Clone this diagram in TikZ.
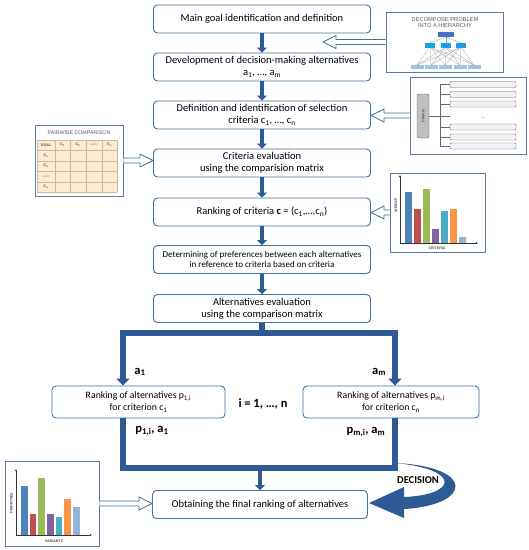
\documentclass[tikz,border=0pt]{standalone}
\usepackage{fontspec}
\setmainfont{Carlito}
\newfontfamily\lsans{Liberation Sans}
\usetikzlibrary{arrows.meta,calc}
\definecolor{boxblue}{HTML}{41719C}
\definecolor{arrblue}{HTML}{2E5A96}
\definecolor{frameblue}{HTML}{5B7BA5}
\definecolor{cBlue}{HTML}{4F81BD}
\definecolor{cRed}{HTML}{C0504D}
\definecolor{cGreen}{HTML}{9BBB59}
\definecolor{cPurple}{HTML}{8064A2}
\definecolor{cAqua}{HTML}{4BACC6}
\definecolor{cOrange}{HTML}{F79646}
\definecolor{cLight}{HTML}{95B3D7}
\definecolor{hTop}{HTML}{4472C4}
\definecolor{hMid}{HTML}{1BA1E2}
\definecolor{hLow}{HTML}{9DC3E6}
\definecolor{beige}{HTML}{FCEBD2}
\definecolor{gridc}{HTML}{C9B99E}
\tikzset{
 mainbox/.style={draw=boxblue, line width=0.9pt, rounded corners=4pt, fill=white,
   minimum width=217pt, minimum height=28pt, align=center, inner sep=0.5pt,
   font=\fontsize{10.5}{12}\selectfont},
 smallbox/.style={mainbox, minimum width=173pt, minimum height=32pt,
   font=\fontsize{9.8}{12}\selectfont},
 imgframe/.style={draw=frameblue, line width=0.9pt, fill=white, inner sep=0pt},
 vflow/.style={draw=arrblue, line width=4pt, -{Triangle[width=10pt,length=5pt]}},
 thk/.style={draw=arrblue, line width=6pt, line join=miter},
 harrow/.style={draw=boxblue, line width=0.8pt, fill=white, line join=miter},
 lbl/.style={font=\fontsize{12.5}{14}\bfseries\selectfont, text=black},
 tinytxt/.style={font=\lsans\fontsize{3.6}{4}\bfseries\selectfont, text=black!70, inner sep=0pt},
 captxt/.style={font=\lsans\fontsize{5.7}{6.5}\selectfont, text=black!65, align=center, inner sep=0pt},
}
\newcommand\hollowarr[2]{%
 \draw[harrow] let \p1=(#1), \p2=(#2), \n1={sign(\x2-\x1)} in
  ({\x1},{\y1+2.5pt}) -- ({\x2-\n1*13pt},{\y1+2.5pt}) -- ({\x2-\n1*13pt},{\y1+6.5pt})
  -- ({\x2},{\y1}) -- ({\x2-\n1*13pt},{\y1-6.5pt}) -- ({\x2-\n1*13pt},{\y1-2.5pt})
  -- ({\x1},{\y1-2.5pt});}
\begin{document}
\begin{tikzpicture}[x=1pt,y=-1pt]
\useasboundingbox (0,0) rectangle (529,550);
\fill[white] (0,0) rectangle (529,550);

% ---------- image: hierarchy ----------
\node[imgframe, minimum width=117pt, minimum height=60pt] (hier) at (444.5,42) {};
\node[captxt] (hiertitle) at (445,22.5) {DECOMPOSE PROBLEM\\INTO A HIERARCHY};
\foreach \mx in {430,446,461} {
  \draw[black!40, line width=0.3pt] (446,37) -- (\mx,43);
  \foreach \bx in {417,431,445,460,474} \draw[black!40, line width=0.25pt] (\mx,47) -- (\bx,65);
}
\fill[hTop] (438,32) rectangle (454,37);
\foreach \mx in {430,446,461} \fill[hMid] (\mx-5,43) rectangle (\mx+5,47.5);
\foreach \bx in {417,431,445,460,474} \fill[hLow] (\bx-6.5,65) rectangle (\bx+6.5,68.5);

% ---------- image: criteria tree ----------
\node[imgframe, minimum width=116pt, minimum height=77pt] (crit) at (468,115.5) {};
\draw[black!60, line width=0.4pt] (429,116) -- (450,116);
\draw[black!60, line width=0.4pt] (440,84.5) -- (440,146);
\foreach \yy in {84.5,94.5,104,127,137,146} {
  \draw[black!60, line width=0.4pt] (440,\yy) -- (450,\yy);
  \draw[black!60, fill=black!5, line width=0.4pt, rounded corners=1pt] (450,\yy-3) rectangle (516,\yy+3);
}
\node[tinytxt] (dots) at (483,118) {...};
\draw[black!60, fill=black!25, line width=0.4pt, rounded corners=2pt] (417,94) rectangle (429,138);
\node[tinytxt, rotate=90] (crittxt) at (423,116) {Criteria};

% ---------- image: pairwise comparison ----------
\node[imgframe, minimum width=88pt, minimum height=71pt] (pw) at (79,160.5) {};
\node[captxt, font=\lsans\fontsize{5.3}{6}\selectfont] (pwtitle) at (79,133) {PAIRWISE COMPARISON};
\fill[beige] (37,140) rectangle (117,192);
\foreach \xx in {37,55,70,86,102,117} \draw[gridc, line width=0.5pt] (\xx,140) -- (\xx,192);
\foreach \yy in {140,150,161,171,182,192} \draw[gridc, line width=0.5pt] (37,\yy) -- (117,\yy);
\node[tinytxt] (g0) at (46,145) {GOAL};
\node[tinytxt] (g1) at (62.5,145) {C\textsubscript{1}};
\node[tinytxt] (g2) at (78,145) {C\textsubscript{2}};
\node[tinytxt] (g3) at (94,145) {——};
\node[tinytxt] (g4) at (109.5,145) {C\textsubscript{n}};
\node[tinytxt] (r1) at (46,155.5) {C\textsubscript{1}};
\node[tinytxt] (r2) at (46,166) {C\textsubscript{2}};
\node[tinytxt] (r3) at (46,176.5) {——};
\node[tinytxt] (r4) at (46,187) {C\textsubscript{n}};

% ---------- image: weight chart ----------
\node[imgframe, minimum width=95pt, minimum height=79pt] (wch) at (437.5,212.5) {};
\fill[cBlue] (405,192) rectangle (412,243);
\fill[cRed] (414,209) rectangle (421,243);
\fill[cGreen] (423,189) rectangle (430,243);
\fill[cPurple] (432,229) rectangle (438.5,243);
\fill[cAqua] (441,211) rectangle (448,243);
\fill[cOrange] (450,209) rectangle (457,243);
\fill[cLight] (459,237) rectangle (466,243);
\draw[black!80, line width=0.5pt, -{Latex[length=2pt,width=2pt]}] (400,243) -- (400,175);
\draw[black!80, line width=0.5pt, -{Latex[length=2pt,width=2pt]}] (400,243) -- (478,243);
\node[tinytxt, rotate=90] (wlab) at (396,205) {WEIGHT};
\node[tinytxt] (clab) at (437,248) {CRITERIA};

% ---------- image: variants chart ----------
\node[imgframe, minimum width=94pt, minimum height=85pt] (vch) at (52,503.5) {};
\fill[cBlue] (21,486) rectangle (27.5,535);
\fill[cRed] (29.5,514) rectangle (36,535);
\fill[cGreen] (38,478) rectangle (45,535);
\fill[cPurple] (47,514) rectangle (53.5,535);
\fill[cAqua] (55.5,517) rectangle (62,535);
\fill[cOrange] (64,499) rectangle (71,535);
\fill[cLight] (73,507) rectangle (80,535);
\draw[black!80, line width=0.5pt, -{Latex[length=2pt,width=2pt]}] (16,535) -- (16,469);
\draw[black!80, line width=0.5pt, -{Latex[length=2pt,width=2pt]}] (16,535) -- (92,535);
\node[tinytxt, rotate=90] (plab) at (11.5,503) {PRIORITIES};
\node[tinytxt] (vlab) at (54,541) {VARIANTS};

% ---------- main boxes ----------
\node[mainbox] (b1) at (262,19) {Main goal identification and definition};
\node[mainbox] (b2) at (262,67) {Development of decision-making alternatives\\a\textsubscript{1}, …, a\textsubscript{m}};
\node[mainbox] (b3) at (262,115) {Definition and identification of selection\\criteria c\textsubscript{1}, …, c\textsubscript{n}};
\node[mainbox] (b4) at (262,163) {Criteria evaluation\\using the comparision matrix};
\node[mainbox] (b5) at (262,212) {Ranking of criteria \textbf{c} = (c\textsubscript{1},…,c\textsubscript{n})};
\node[mainbox, font=\fontsize{9}{10.5}\selectfont] (b6) at (262,259.5) {Determining of preferences between each alternatives\\in reference to criteria based on criteria};
\node[mainbox] (b7) at (262,308.5) {Alternatives evaluation\\using the comparison matrix};
\node[smallbox] (b8l) at (138.5,402) {Ranking of alternatives p\textsubscript{1,i}\\for criterion c\textsubscript{1}};
\node[smallbox, minimum width=176pt] (b8r) at (391,402) {Ranking of alternatives p\textsubscript{m,i}\\for criterion c\textsubscript{n}};
\node[mainbox, minimum width=215pt] (fin) at (260,504.5) {Obtaining the final ranking of alternatives};

% ---------- hollow arrows ----------
\coordinate (hgap) at (323,42);
\hollowarr{hier.west}{hgap}
\hollowarr{crit.west}{b3.east}
\hollowarr{pw.east}{b4.west |- pw.east}
\hollowarr{wch.west}{b5.east}
\hollowarr{vch.east}{fin.west |- vch.east}

% ---------- main flow ----------
\draw[vflow] (b1.south) -- (b2.north);
\draw[vflow] (b2.south) -- (b3.north);
\draw[vflow] (b3.south) -- (b4.north);
\draw[vflow] (b4.south) -- (b5.north);
\draw[vflow] (b5.south) -- (b6.north);
\draw[vflow] (b6.south) -- (b7.north);

\coordinate (jt) at (262,333);
\coordinate (jl) at (123,333);
\coordinate (jr) at (395,333);
\draw[thk] (b7.south) -- (jt);
\draw[thk, {Triangle[width=13pt,length=7pt]}-{Triangle[width=13pt,length=7pt]}] (jl |- b8l.north) -- (jl) -- (jr) -- (jr |- b8r.north);

\coordinate (kl) at (123,468);
\coordinate (kr) at (395,468);
\coordinate (kt) at (260,468);
\draw[thk] (jl |- b8l.south) -- (kl) -- (kr) -- (jr |- b8r.south);
\draw[vflow] (kt) -- (fin.north);

% ---------- labels ----------
\node[lbl] (la1) at (140,372) {a\textsubscript{1}};
\node[lbl] (lam) at (379,372) {a\textsubscript{m}};
\node[lbl] (li) at (263,404) {i = 1, …, n};
\node[lbl] (lp1) at (152,431) {p\textsubscript{1,i}, a\textsubscript{1}};
\node[lbl] (lpm) at (366,432) {p\textsubscript{m,i}, a\textsubscript{m}};

% ---------- decision arrow ----------
\fill[arrblue] (396,463) .. controls (476,467) and (472,505) .. (404,509)
  -- (404,518) -- (369,503) -- (404,487) -- (404,497)
  .. controls (456,495) and (463,470) .. (396,463) -- cycle;
\node[font=\fontsize{10.5}{12}\bfseries\selectfont] (dec) at (418,480) {DECISION};
\end{tikzpicture}
\end{document}
